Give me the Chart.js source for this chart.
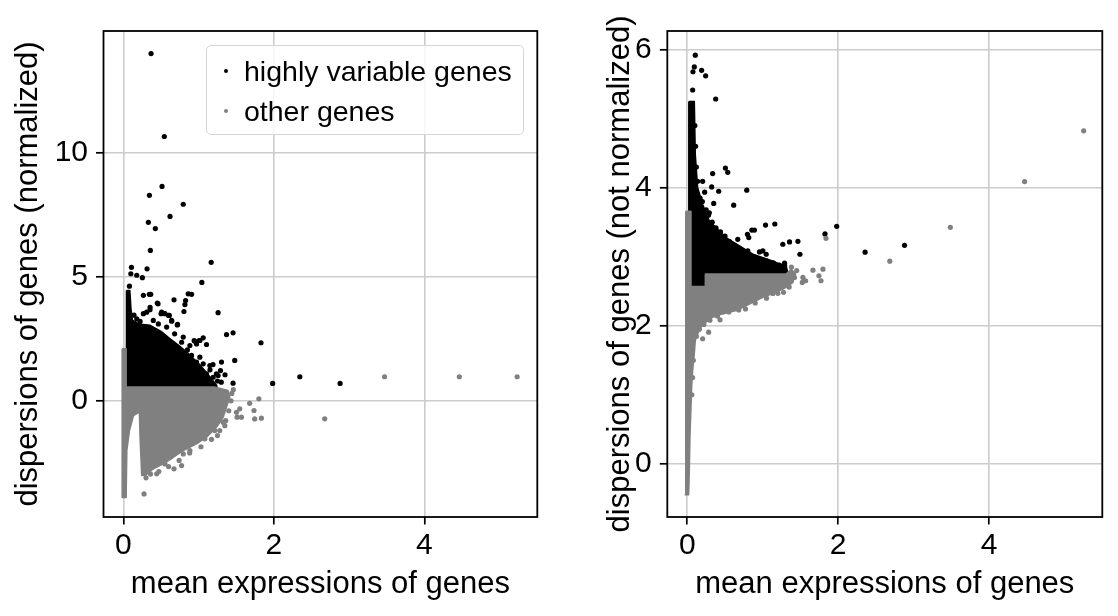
<!DOCTYPE html>
<html>
<head>
<meta charset="utf-8">
<title>highly variable genes</title>
<script src="https://cdn.jsdelivr.net/npm/chart.js"></script>
<style>
  html, body { margin: 0; padding: 0; background: #fff; }
  #wrap { position: relative; width: 1118px; height: 616px; font-family: "Liberation Sans", Arial, Helvetica, sans-serif; }
  .panel { position: absolute; top: 0; width: 559px; height: 616px; }
  .panel canvas { display: block; }
  #legendBox {
    position: absolute; left: 206px; top: 45px; width: 318px; height: 90px;
    box-sizing: border-box; border: 1.5px solid #d5d5d5; border-radius: 5px;
    background: rgba(255, 255, 255, 0.8);
  }
  #legendBox .row { position: absolute; left: 0; height: 34px; line-height: 34px; font-size: 28.5px; color: #000; white-space: nowrap; }
  #legendBox .dot { position: absolute; left: 17px; top: 15px; width: 4px; height: 4px; border-radius: 50%; }
  #legendBox .txt { position: absolute; left: 37px; }
</style>
</head>
<body>
<div id="wrap">
  <div class="panel" style="left:0"><canvas id="chartNorm" width="559" height="616"></canvas></div>
  <div class="panel" style="left:559px"><canvas id="chartRaw" width="559" height="616"></canvas></div>
  <div id="legendBox"></div>
</div>
<script>
// ---- ticks ----
const xTicks = [0, 2, 4];
const yTicksNorm = [0, 5, 10];
const yTicksRaw = [0, 2, 4, 6];

// ---- left panel: normalized dispersions ----
// single genes that stand out of the clouds
const normHvgPoints = [
  [0.367, 13.99], [0.543, 10.65], [0.513, 8.64], [0.345, 8.28], [0.795, 7.92],
  [0.619, 7.43], [0.331, 7.19], [0.424, 6.94], [0.358, 6.06], [1.166, 5.58],
  [0.106, 5.38], [0.314, 5.32], [0.098, 5.12], [0.177, 5.06], [0.252, 4.96],
  [1.042, 4.77], [0.08, 4.62], [0.265, 4.25], [0.344, 4.29], [0.363, 4.29],
  [0.861, 4.31], [0.906, 4.29], [0.672, 4.07], [0.826, 4.04], [0.817, 3.88],
  [0.46, 3.91], [0.354, 3.77], [1.258, 3.55], [0.804, 3.6], [0.265, 3.51],
  [0.5, 3.51], [0.552, 3.51], [0.6, 3.44], [0.72, 3.08], [0.641, 3.21],
  [1.37, 2.67], [1.457, 2.74], [1.828, 2.34], [1.06, 2.54], [0.95, 2.4],
  [1.007, 2.43], [1.104, 2.27], [1.479, 1.63], [1.303, 1.56], [1.19, 1.46],
  [1.457, 0.71], [1.983, 0.70], [2.344, 0.97], [2.879, 0.70],
  [1.236, 1.09], [1.29, 1.22], [1.148, 1.42], [1.25, 0.8], [1.35, 1.05],
  // ragged rim of the black cloud
  [0.45, 3.94], [0.508, 3.57], [0.61, 3.44], [0.64, 3.24], [0.716, 3.06],
  [0.353, 3.67], [0.309, 3.57], [0.397, 3.24], [0.464, 3.10], [0.574, 2.97],
  [0.795, 2.57], [0.773, 2.36], [0.883, 2.23], [0.94, 2.43], [1.016, 2.43],
  [0.971, 2.29], [0.905, 1.83], [1.016, 1.76], [1.06, 1.49], [0.971, 1.56],
  [1.104, 1.09], [1.192, 0.95], [1.258, 1.02], [0.221, 3.2], [0.177, 3.3],
  [0.14, 3.45], [0.68, 2.7], [0.85, 2.05], [1.15, 1.25], [1.3, 0.75]
];
const normOtherPoints = [
  [3.47, 0.97], [4.464, 0.97], [5.232, 0.97], [2.675, -0.726], [1.80, 0.08],
  [1.678, -0.1], [1.735, -0.39], [1.744, -0.73], [1.833, -0.70], [1.546, -0.32],
  [1.502, -0.46], [1.568, -0.66], [1.51, -0.66], [1.325, -0.86], [1.347, -1.0],
  [1.215, -1.2], [1.104, -1.33], [1.016, -1.53], [1.082, -1.53], [0.883, -2.0],
  [0.795, -2.14], [0.575, -2.2], [0.619, -2.27], [0.53, -2.48], [0.552, -2.54],
  [0.773, -2.61], [0.672, -2.74], [0.442, -2.94], [0.287, -2.88], [0.274, -3.75],
  // ragged rim of the grey cloud
  [1.44, 0.3], [1.43, 0.0], [1.40, -0.4], [1.36, -0.8], [1.28, -1.2],
  [1.17, -1.55], [1.03, -1.85], [0.88, -2.1], [0.74, -2.4], [0.6, -2.65],
  [0.47, -2.85], [0.36, -2.95], [0.3, -3.1], [1.46, 0.45], [1.25, -1.4]
];
// outline of the dense part where dots overlap completely
const normHvgCloud = [
  [0.04, 4.45], [0.085, 4.45], [0.1, 3.7], [0.12, 3.25], [0.2, 3.1], [0.35, 3.05],
  [0.5, 2.8], [0.6, 2.55], [0.75, 2.2], [0.88, 1.85], [1.0, 1.5], [1.1, 1.15],
  [1.18, 0.85], [1.24, 0.62], [1.24, 0.56], [0.04, 0.56], [0.04, 4.45]
];
const normOtherCloud = [
  [-0.017, 2.10], [0.036, 2.10], [0.036, 0.56], [1.21, 0.56], [1.39, 0.415],
  [1.413, 0.146], [1.369, -0.257], [1.325, -0.66], [1.236, -1.063], [1.104, -1.466],
  [0.971, -1.735], [0.795, -2.0], [0.662, -2.273], [0.53, -2.54], [0.397, -2.74],
  [0.287, -3.01], [0.243, -3.01], [0.221, -1.5], [0.212, -0.458], [0.133, -0.6],
  [0.08, -1.198], [0.045, -2.0], [0.036, -3.89], [-0.017, -3.89], [-0.017, 2.10]
];

// ---- right panel: raw dispersions ----
const rawHvgPoints = [
  [0.106, 5.92], [0.093, 5.75], [0.075, 5.68], [0.19, 5.70], [0.243, 5.62],
  [0.071, 5.415], [0.376, 5.285], [0.505, 4.285], [0.536, 4.223], [0.336, 4.204],
  [0.137, 4.093], [0.203, 4.093], [0.323, 4.011], [0.788, 3.964], [0.23, 3.935],
  [0.416, 3.949], [0.35, 3.772], [0.615, 3.747], [0.292, 3.637], [1.16, 3.474],
  [1.037, 3.459], [1.98, 3.44], [0.855, 3.387], [0.89, 3.387], [0.797, 3.325],
  [0.815, 3.277], [1.825, 3.33], [0.669, 3.253], [1.355, 3.214], [1.466, 3.224],
  [1.266, 3.181], [1.493, 3.036], [2.356, 3.066], [2.879, 3.166], [0.802, 3.084],
  [0.957, 3.07], [1.001, 3.084], [1.046, 3.036], [1.289, 2.907], [1.156, 2.868],
  [0.58, 3.132], [0.691, 3.109],
  // ragged rim of the black cloud
  [0.17, 3.85], [0.2, 3.8], [0.25, 3.68], [0.28, 3.6], [0.33, 3.5], [0.38, 3.42],
  [0.44, 3.36], [0.5, 3.3], [0.56, 3.22], [0.63, 3.14], [0.72, 3.08], [0.79, 3.03],
  [0.88, 3.0], [0.96, 2.96], [1.05, 2.94], [1.14, 2.91], [1.22, 2.88], [1.29, 2.87],
  [0.12, 4.3], [0.11, 4.6], [0.1, 4.9]
];
const rawOtherPoints = [
  [5.253, 4.824], [4.47, 4.089], [3.486, 3.426], [2.684, 2.936], [1.838, 3.267],
  [1.665, 2.806], [1.798, 2.82], [1.745, 2.724], [1.772, 2.652], [1.532, 2.7],
  [1.568, 2.652], [1.524, 2.628], [0.682, 2.23], [0.771, 2.244], [0.434, 2.086],
  [0.283, 1.907], [0.203, 1.812], [1.276, 2.484], [1.134, 2.469],
  // ragged rim of the grey cloud
  [0.12, 1.85], [0.16, 1.95], [0.22, 2.02], [0.3, 2.08], [0.4, 2.14], [0.55, 2.2],
  [0.9, 2.33], [1.05, 2.4], [1.2, 2.47], [1.35, 2.56], [1.42, 2.7], [1.38, 2.85],
  [0.08, 1.5], [0.07, 1.25], [0.06, 1.0], [1.45, 2.8]
];
const rawHvgCloud = [
  [0.02, 5.25], [0.093, 5.25], [0.106, 4.48], [0.137, 4.0], [0.204, 3.757],
  [0.292, 3.517], [0.514, 3.277], [0.869, 3.036], [1.1, 2.95], [1.311, 2.86],
  [1.33, 2.78], [1.31, 2.748], [0.239, 2.748], [0.239, 2.57], [0.049, 2.57],
  [0.02, 3.66], [0.02, 5.25]
];
const rawOtherCloud = [
  [-0.02, 3.66], [0.049, 3.66], [0.049, 2.57], [0.239, 2.57], [0.239, 2.75],
  [1.31, 2.75], [1.378, 2.82], [1.435, 2.75], [1.4, 2.63], [1.311, 2.556],
  [1.178, 2.484], [1.001, 2.412], [0.824, 2.316], [0.647, 2.22], [0.469, 2.172],
  [0.337, 2.124], [0.248, 2.051], [0.182, 1.979], [0.137, 1.883], [0.106, 1.787],
  [0.093, 1.595], [0.071, 1.355], [0.058, 1.115], [0.049, 0.826], [0.035, 0.394],
  [0.027, -0.086], [0.018, -0.447], [-0.027, -0.447], [-0.02, 1.1], [-0.02, 3.66]
];

const FONT = '"Liberation Sans", Arial, Helvetica, sans-serif';
const BLACK = "#000000";
const GREY = "#808080";

function toXY(list) {
  return list.map(([x, y]) => ({ x, y }));
}

// matplotlib draws the black genes first, the grey ones on top
// (chart.js: lower "order" is painted later)
function buildDatasets(hvgPts, otherPts, hvgCloud, otherCloud) {
  const dot = (label, pts, color, order, rank) => ({
    label, data: toXY(pts), backgroundColor: color, borderColor: color,
    pointRadius: 2.6, pointBorderWidth: 0, borderWidth: 0, order,
    inLegend: true, legendRank: rank
  });
  const cloud = (label, pts, color, order) => ({
    type: "line", label, data: toXY(pts), backgroundColor: color, borderColor: color,
    borderWidth: 1.5, borderJoinStyle: "round", pointRadius: 0, tension: 0,
    fill: "shape", order
  });
  return [
    dot("other genes", otherPts, GREY, 0, 1),
    cloud("other genes (dense)", otherCloud, GREY, 1),
    dot("highly variable genes", hvgPts, BLACK, 2, 0),
    cloud("highly variable genes (dense)", hvgCloud, BLACK, 3)
  ];
}

// box around the plot area (all four spines)
const framePlugin = {
  id: "frame",
  afterDraw(chart) {
    const { ctx, chartArea: a } = chart;
    ctx.save();
    ctx.strokeStyle = "#000";
    ctx.lineWidth = 1.8;
    ctx.strokeRect(a.left, a.top, a.right - a.left, a.bottom - a.top);
    ctx.restore();
  }
};

function axis(opts) {
  return {
    type: "linear",
    position: opts.position,
    min: opts.min,
    max: opts.max,
    grid: { color: "#cccccc", lineWidth: 1.6, drawTicks: true, tickLength: 7.5, tickColor: "#000", tickWidth: 1.7 },
    border: { display: false },
    ticks: { color: "#000", font: { family: FONT, size: 30 }, padding: opts.tickPad, maxRotation: 0, autoSkip: false },
    afterBuildTicks: s => { s.ticks = opts.ticks.map(v => ({ value: v })); },
    afterFit: s => {
      if (opts.position === "left") s.width = opts.fit;
      else s.height = opts.fit;
    },
    title: { display: true, text: opts.title, color: "#000", font: { family: FONT, size: 31 }, padding: opts.titlePad }
  };
}

function makePanel(canvasId, datasets, yOpts, rightPad) {
  return new Chart(document.getElementById(canvasId), {
    type: "scatter",
    data: { datasets },
    options: {
      responsive: false,
      animation: false,
      events: [],
      layout: { padding: { top: 31, right: rightPad, bottom: 0, left: 0 } },
      plugins: { legend: { display: false }, tooltip: { enabled: false } },
      scales: {
        x: axis({
          position: "bottom", min: -0.265, max: 5.5, ticks: xTicks, tickPad: 3.5, fit: 99,
          title: "mean expressions of genes", titlePad: { top: 0, bottom: 13.4 }
        }),
        y: axis(Object.assign({ position: "left", tickPad: 8 }, yOpts))
      }
    },
    plugins: [framePlugin]
  });
}

function renderLegend(chart) {
  const box = document.getElementById("legendBox");
  const items = chart.data.datasets
    .filter(d => d.inLegend)
    .sort((a, b) => a.legendRank - b.legendRank);
  const centers = [24.5, 65];
  box.innerHTML = items.map((d, i) => `
    <div class="row" style="top:${centers[i] - 17}px">
      <span class="dot" style="background:${d.backgroundColor}"></span>
      <span class="txt">${d.label}</span>
    </div>`).join("");
}

const normChart = makePanel("chartNorm",
  buildDatasets(normHvgPoints, normOtherPoints, normHvgCloud, normOtherCloud),
  { min: -4.68, max: 14.9, ticks: yTicksNorm, fit: 103.5,
    title: "dispersions of genes (normalized)", titlePad: { top: 9.4, bottom: 0 } },
  21.7);

makePanel("chartRaw",
  buildDatasets(rawHvgPoints, rawOtherPoints, rawHvgCloud, rawOtherCloud),
  { min: -0.77, max: 6.27, ticks: yTicksRaw, fit: 108.3,
    title: "dispersions of genes (not normalized)", titlePad: { top: 42.4, bottom: 0 } },
  15.7);

renderLegend(normChart);
</script>
</body>
</html>
